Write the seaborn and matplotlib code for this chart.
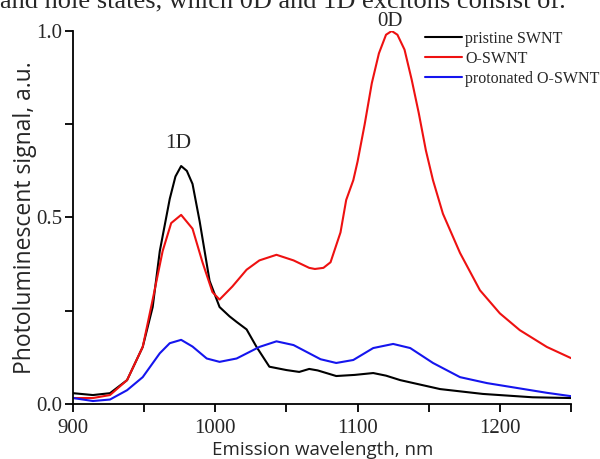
import matplotlib
matplotlib.use("Agg")
import matplotlib.pyplot as plt
import seaborn as sns
import pandas as pd
from matplotlib.ticker import MultipleLocator, FormatStrFormatter

# values
WL_PRISTINE = [900, 914, 926, 938, 949, 956, 961, 968, 972, 976, 980, 984, 989, 996,
               1003, 1010, 1015, 1022, 1029, 1038, 1050, 1059, 1066, 1072, 1085, 1098,
               1111, 1120, 1130, 1158, 1188, 1223, 1250]
PL_PRISTINE = [0.029, 0.024, 0.029, 0.064, 0.153, 0.26, 0.41, 0.55, 0.61, 0.638, 0.625,
               0.59, 0.49, 0.33, 0.26, 0.235, 0.22, 0.20, 0.153, 0.10, 0.091, 0.086,
               0.094, 0.09, 0.075, 0.078, 0.083, 0.076, 0.064, 0.04, 0.027, 0.018, 0.016]

WL_OX = [900, 914, 926, 938, 949, 956, 963, 969, 976, 984, 991, 998, 1003, 1012, 1022,
         1031, 1043, 1055, 1066, 1070, 1076, 1081, 1088, 1092, 1097, 1100, 1105, 1110,
         1115, 1120, 1124, 1128, 1133, 1138, 1143, 1148, 1153, 1160, 1172, 1186, 1200,
         1214, 1233, 1250]
PL_OX = [0.016, 0.016, 0.024, 0.064, 0.153, 0.28, 0.41, 0.485, 0.507, 0.47, 0.38, 0.30,
         0.28, 0.315, 0.36, 0.385, 0.40, 0.385, 0.365, 0.362, 0.365, 0.38, 0.46, 0.547,
         0.60, 0.65, 0.75, 0.86, 0.94, 0.99, 1.0, 0.99, 0.95, 0.87, 0.78, 0.68, 0.60,
         0.51, 0.405, 0.305, 0.243, 0.198, 0.153, 0.123]

WL_PROT = [900, 914, 926, 938, 949, 961, 968, 976, 984, 994, 1003, 1015, 1031, 1043,
           1055, 1066, 1074, 1085, 1097, 1111, 1125, 1137, 1153, 1172, 1191, 1212, 1233, 1250]
PL_PROT = [0.016, 0.008, 0.012, 0.037, 0.072, 0.136, 0.163, 0.172, 0.154, 0.122, 0.113,
           0.122, 0.153, 0.168, 0.158, 0.136, 0.12, 0.11, 0.118, 0.15, 0.161, 0.15, 0.11,
           0.072, 0.056, 0.043, 0.03, 0.021]

LABELS = ["pristine SWNT", "O-SWNT", "protonated O-SWNT"]
COLORS = ["#000000", "#ee1111", "#1515ee"]

df = pd.concat([
    pd.DataFrame({"wl": WL_PRISTINE, "pl": PL_PRISTINE, "sample": LABELS[0]}),
    pd.DataFrame({"wl": WL_OX, "pl": PL_OX, "sample": LABELS[1]}),
    pd.DataFrame({"wl": WL_PROT, "pl": PL_PROT, "sample": LABELS[2]}),
])

sns.set_style("ticks")
serif = ["Liberation Serif", "DejaVu Serif"]
sans = ["Open Sans", "DejaVu Sans"]

fig = plt.figure(figsize=(6, 4.59), dpi=100)
ax = fig.add_axes([73 / 600, 55 / 459, 498 / 600, 373 / 459])

sns.lineplot(data=df, x="wl", y="pl", hue="sample", palette=dict(zip(LABELS, COLORS)),
             hue_order=LABELS, sort=False, linewidth=1.5, ax=ax)

ax.set_xlim(900, 1250)
ax.set_ylim(0, 1.0)
ax.xaxis.set_major_locator(MultipleLocator(100))
ax.xaxis.set_minor_locator(MultipleLocator(50))
ax.yaxis.set_major_locator(MultipleLocator(0.5))
ax.yaxis.set_minor_locator(MultipleLocator(0.25))
ax.yaxis.set_major_formatter(FormatStrFormatter("%.1f"))
ax.tick_params(which="both", direction="out", width=1.3, length=5.8, color="black")
ax.tick_params(axis="x", which="major", pad=5)
ax.tick_params(axis="y", which="major", pad=2)
for lab in ax.get_xticklabels() + ax.get_yticklabels():
    lab.set_family(serif)
    lab.set_fontsize(15)
sns.despine(ax=ax)
for s in ["left", "bottom"]:
    ax.spines[s].set_color("black")
    ax.spines[s].set_linewidth(1.3)

ax.set_xlabel("Emission wavelength, nm", family=sans, fontsize=13.5)
ax.xaxis.set_label_coords(0.501, -0.137)
ax.xaxis.label.set_va("baseline")
ax.set_ylabel("Photoluminescent signal, a.u.", family=sans, fontsize=16.5)
ax.yaxis.set_label_coords(-0.097, 0.50)
ax.yaxis.label.set_va("center")

ax.text(973.8, 0.685, "1D", family=serif, fontsize=15.5, ha="center", va="baseline")
ax.text(1122.8, 1.013, "0D", family=serif, fontsize=15, ha="center", va="baseline", clip_on=False)

leg = ax.legend(loc="upper left", bbox_to_anchor=(0.7068, 1.0), frameon=False,
                prop={"family": serif, "size": 11.5}, handlelength=2.3,
                handletextpad=0.2, labelspacing=0.25, borderpad=0, borderaxespad=0)

fig.text(0.0, 1 - 8 / 459, "and hole states, which 0D and 1D excitons consist of.",
         family=serif, fontsize=19, ha="left", va="baseline")

fig.savefig("out.png", dpi=100)
